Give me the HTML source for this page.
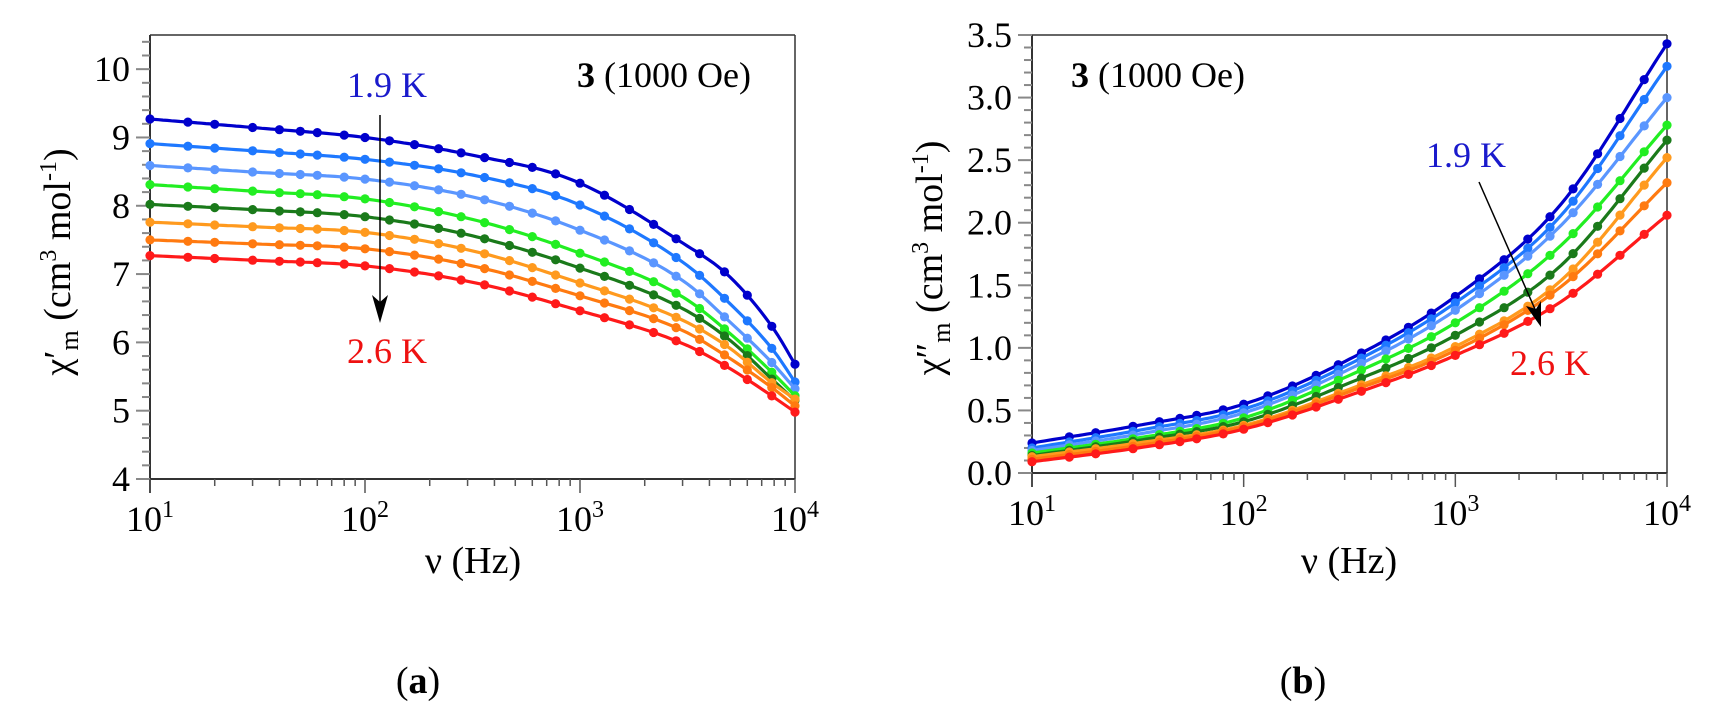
<!DOCTYPE html>
<html><head><meta charset="utf-8"><style>
html,body{margin:0;padding:0;background:#fff;}
svg{display:block;font-family:"Liberation Serif","DejaVu Serif",serif;}
svg text{font-family:"Liberation Serif","DejaVu Serif",serif !important;}
</style></head><body>
<svg id="s" width="1714" height="716" xmlns="http://www.w3.org/2000/svg" font-family="Liberation Serif, serif"></svg>
<script>
const S=document.getElementById('s');let h='';
const FF='font-family="Liberation Serif, DejaVu Serif, serif"';
const cols=['#0000cc','#1e78ff','#5a96ff','#22ee22','#1a7a1a','#ff9a1e','#ff7a10','#ff1a1a'];
function mono(xs,ys){const n=xs.length,d=[],m=[];for(let i=0;i<n-1;i++)d.push((ys[i+1]-ys[i])/(xs[i+1]-xs[i]));
m[0]=d[0];m[n-1]=d[n-2];for(let i=1;i<n-1;i++)m[i]=(d[i-1]*d[i]<=0)?0:(d[i-1]+d[i])/2;
return x=>{let i=0;while(i<n-2&&x>xs[i+1])i++;const hh=xs[i+1]-xs[i],t=(x-xs[i])/hh;const t2=t*t,t3=t2*t;
return (2*t3-3*t2+1)*ys[i]+(t3-2*t2+t)*hh*m[i]+(-2*t3+3*t2)*ys[i+1]+(t3-t2)*hh*m[i+1];};}
const freqs=[10,15,20,30,40,50,60,80,100,130,170,220,280,360,470,600,770,1000,1300,1700,2200,2800,3600,4700,6000,7800,10000];
function panel(P){
 const {x0,x1,y0,y1,ymin,ymax}=P;
 const X=l=>x0+(l-1)/3*(x1-x0), Y=v=>y1-(v-ymin)/(ymax-ymin)*(y1-y0);
 h+=`<line x1="${x0}" y1="${y0}" x2="${x1}" y2="${y0}" stroke="#666" stroke-width="2"/>`;
 h+=`<line x1="${x1}" y1="${y0}" x2="${x1}" y2="${y1}" stroke="#333" stroke-width="1.5"/>`;
 h+=`<line x1="${x0}" y1="${y0}" x2="${x0}" y2="${y1+14}" stroke="#333" stroke-width="2"/>`;
 h+=`<line x1="${x0-14}" y1="${y1}" x2="${x1}" y2="${y1}" stroke="#333" stroke-width="2"/>`;
 for(let k=0;;k++){const v=ymin+k*P.minor;if(v>ymax+1e-9)break;const maj=Math.abs(v/P.major-Math.round(v/P.major))<1e-6;
  const y=Y(v);h+=`<line x1="${x0-(maj?14:8)}" y1="${y}" x2="${x0}" y2="${y}" stroke="#888" stroke-width="2"/>`;
  if(maj)h+=`<text ${FF} x="${x0-20}" y="${y+12}" font-size="36" text-anchor="end">${v.toFixed(P.dec)}</text>`;}
 for(let d=1;d<=4;d++){for(let k=1;k<=9;k++){if(d==4&&k>1)break;const l=d+Math.log10(k);const x=X(l);
  h+=`<line x1="${x}" y1="${y1}" x2="${x}" y2="${y1+(k==1?14:7)}" stroke="#555" stroke-width="1.5"/>`;}
  h+=`<text ${FF} x="${X(d)}" y="${y1+52}" font-size="36" text-anchor="middle">10<tspan font-size="24" dy="-14">${d}</tspan></text>`;}
 P.ser.forEach((ys,i)=>{const f=mono(P.lx,ys);let p='';for(let l=1;l<=4.0001;l+=0.02)p+=(p?'L':'M')+X(l).toFixed(1)+','+Y(f(l)).toFixed(1);
  h+=`<path d="${p}" fill="none" stroke="${cols[i]}" stroke-width="3.2"/>`;
  freqs.forEach(fq=>{const l=Math.log10(fq);h+=`<circle cx="${X(l).toFixed(1)}" cy="${Y(f(l)).toFixed(1)}" r="4.6" fill="${cols[i]}"/>`;});});
}
panel({x0:150,x1:795,y0:35,y1:479,ymin:4,ymax:10.5,minor:0.2,major:1,dec:0,
 lx:[1,1.5,2,2.5,2.97,3.48,3.69,3.9,4],
 ser:[[9.27,9.14,9.0,8.74,8.37,7.45,6.98,6.2,5.68],
 [8.91,8.80,8.68,8.45,8.05,7.17,6.59,5.88,5.42],
 [8.59,8.49,8.39,8.13,7.68,6.9,6.32,5.68,5.32],
 [8.31,8.21,8.1,7.8,7.34,6.66,6.15,5.54,5.22],
 [8.02,7.94,7.84,7.56,7.12,6.49,6.05,5.44,5.15],
 [7.76,7.69,7.61,7.34,6.9,6.32,5.93,5.39,5.17],
 [7.5,7.44,7.37,7.12,6.71,6.17,5.78,5.32,5.07],
 [7.27,7.2,7.12,6.88,6.49,5.98,5.63,5.2,4.98]]});
panel({x0:1032,x1:1667,y0:35,y1:473,ymin:0,ymax:3.5,minor:0.1,major:0.5,dec:1,
 lx:[1,1.5,2,2.5,3,3.5,4],
 ser:[[0.24,0.38,0.55,0.91,1.41,2.15,3.43],
 [0.20,0.34,0.51,0.87,1.36,2.06,3.25],
 [0.18,0.31,0.48,0.83,1.30,1.98,3.0],
 [0.16,0.28,0.44,0.78,1.20,1.82,2.78],
 [0.14,0.26,0.41,0.72,1.10,1.66,2.66],
 [0.13,0.24,0.38,0.67,1.01,1.54,2.52],
 [0.11,0.22,0.37,0.65,0.98,1.49,2.32],
 [0.09,0.20,0.35,0.62,0.94,1.37,2.06]]});
const T=(tx)=>`<text ${FF} transform="${tx}" font-size="38" text-anchor="middle">`;
h+=T('translate(70,262) rotate(-90)')+`χ′<tspan font-size="26" dy="8">m</tspan><tspan dy="-8"> (cm</tspan><tspan font-size="24" dy="-14">3</tspan><tspan dy="14"> mol</tspan><tspan font-size="24" dy="-14">-1</tspan><tspan dy="14">)</tspan></text>`;
h+=T('translate(942,258) rotate(-90)')+`χ″<tspan font-size="26" dy="8">m</tspan><tspan dy="-8"> (cm</tspan><tspan font-size="24" dy="-14">3</tspan><tspan dy="14"> mol</tspan><tspan font-size="24" dy="-14">-1</tspan><tspan dy="14">)</tspan></text>`;
h+=`<text ${FF} x="473" y="573" font-size="38" text-anchor="middle">ν (Hz)</text>`;
h+=`<text ${FF} x="1349" y="573" font-size="38" text-anchor="middle">ν (Hz)</text>`;
h+=`<text ${FF} x="418" y="693" font-size="38" text-anchor="middle">(<tspan font-weight="bold">a</tspan>)</text>`;
h+=`<text ${FF} x="1303" y="693" font-size="38" text-anchor="middle">(<tspan font-weight="bold">b</tspan>)</text>`;
h+=`<text ${FF} x="577" y="87" font-size="36"><tspan font-weight="bold">3</tspan> (1000 Oe)</text>`;
h+=`<text ${FF} x="1071" y="87" font-size="36"><tspan font-weight="bold">3</tspan> (1000 Oe)</text>`;
h+=`<text ${FF} x="347" y="97" font-size="36" fill="#1a1acc">1.9 K</text>`;
h+=`<text ${FF} x="347" y="363" font-size="36" fill="#ee1111">2.6 K</text>`;
h+=`<text ${FF} x="1426" y="167" font-size="36" fill="#1a1acc">1.9 K</text>`;
h+=`<text ${FF} x="1510" y="375" font-size="36" fill="#ee1111">2.6 K</text>`;
h+=`<line x1="380" y1="115" x2="380" y2="310" stroke="#000" stroke-width="1.5"/><path d="M372,295 L380,323 L388,295 L380,302 Z" fill="#000"/>`;
h+=`<line x1="1479" y1="182" x2="1538" y2="316" stroke="#000" stroke-width="1.5"/><path d="M1526,306 L1541,327 L1541,301 L1536,309 Z" fill="#000"/>`;
S.innerHTML=h;
</script>
</body></html>
